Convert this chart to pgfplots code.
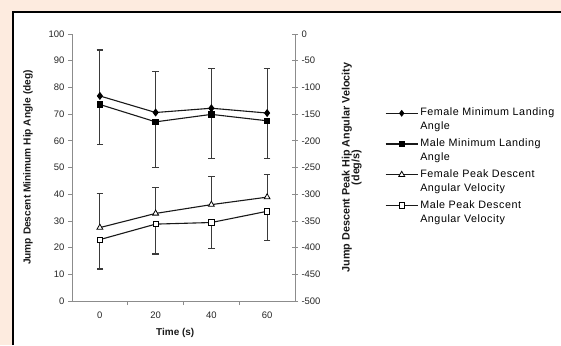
\documentclass[border=0pt]{standalone}
\usepackage{fontspec}
\setmainfont{Liberation Sans}
\newfontfamily\legfont[LetterSpace=5]{Liberation Sans}
\usepackage{pgfplots}
\pgfplotsset{compat=1.18}
\definecolor{peach}{HTML}{FDEBDF}
\definecolor{axgray}{HTML}{8C8C8C}
\definecolor{errgray}{HTML}{3A3A3A}
\pgfplotsset{
  common/.style={
    scale only axis, width=223bp, height=267bp,
    at={(72bp,-301bp)}, anchor=south west,
    xmin=-10, xmax=70,
    axis line style={draw=axgray, line width=0.9bp, -},
    tick style={draw=axgray, line width=0.8bp},
    ticklabel style={font=\fontsize{9.5}{11}\selectfont, text=black!85},
    /pgf/number format/assume math mode=true,
    clip=false,
  },
  line/.style={black!90, line width=1.1bp},
  ebar/.style={/pgfplots/error bars/error bar style={errgray, line width=1.1bp}, /pgfplots/error bars/error mark options={errgray, line width=1.1bp, mark size=3.2bp, rotate=90}},
}
\begin{document}
\begin{tikzpicture}[x=1bp,y=1bp]
\useasboundingbox (0,0) rectangle (561,-345);
\fill[peach] (0,0) rectangle (561,-345);
\fill[white] (13,-12) rectangle (561,-345);
\draw[line width=2.2bp] (13,-345) -- (13,-12.1) -- (561,-12.1);

\begin{axis}[common,
  ymin=0, ymax=100,
  axis x line*=bottom, axis y line*=left,
  ytick={0,10,...,100}, ytick align=outside, major tick length=4bp,
  xtick={0,20,40,60}, xtick style={draw=none},
  xticklabel style={yshift=-7bp},
  extra x ticks={10,30,50}, extra x tick labels={},
  extra x tick style={tick align=outside, major tick length=4bp, xtick style={draw=axgray}},
  xlabel={Time (s)},
  xlabel style={at={(axis description cs:0.463,-0.12)}, anchor=center, font=\bfseries\fontsize{10}{12}\selectfont, text=black!90},
  ylabel={Jump Descent Minimum Hip Angle (deg)},
  ylabel style={at={(axis description cs:-0.197,0.5)}, anchor=center, font=\bfseries\fontsize{10.2}{12}\selectfont, text=black!90},
]
\addplot+[line, mark=diamond*, mark size=3.2bp, mark options={fill=black, draw=black, solid}, ebar,
  error bars/.cd, y dir=plus, y explicit]
  coordinates {(0,76.8) +- (0,17.2) (20,70.6) +- (0,15.5) (40,72.2) +- (0,14.9) (60,70.4) +- (0,16.8)};
\addplot+[line, mark=square*, mark size=2.7bp, mark options={fill=black, draw=black, solid}, ebar,
  error bars/.cd, y dir=minus, y explicit]
  coordinates {(0,73.6) +- (0,14.9) (20,67.1) +- (0,17.2) (40,69.9) +- (0,16.4) (60,67.5) +- (0,14.0)};
\end{axis}

\begin{axis}[common,
  ymin=-500, ymax=0,
  axis x line=none, axis y line*=right,
  ytick={-500,-450,...,0}, ytick align=center, major tick length=6bp,
  ylabel={\begin{tabular}{c}Jump Descent Peak Hip Angular Velocity\\[-2bp](deg/s)\end{tabular}},
  ylabel style={at={(axis description cs:1.256,0.5)}, anchor=center, font=\bfseries\fontsize{10.8}{12}\selectfont, text=black!90},
  legend style={at={(axis description cs:1.39,0.738)}, anchor=north west, draw=none, fill=none,
    font=\legfont\fontsize{10.8}{14}\selectfont, row sep=3.5bp, cells={align=left, anchor=west}},
  legend cell align=left,
  legend image code/.code={\draw[mark repeat=2, mark phase=2, yshift=6.5bp, #1] plot coordinates {(0bp,0bp) (16bp,0bp) (32bp,0bp)};},
]
\addlegendimage{line, mark=diamond*, mark size=2.6bp, mark options={fill=black, draw=black, solid}}
\addlegendentry{Female Minimum Landing\\Angle}
\addlegendimage{line, mark=square*, mark size=2.3bp, mark options={fill=black, draw=black, solid}}
\addlegendentry{Male Minimum Landing\\Angle}
\addplot+[line, mark=triangle*, mark size=3.4bp, mark options={fill=white, draw=black, solid, line width=0.8bp}, ebar,
  error bars/.cd, y dir=plus, y explicit]
  coordinates {(0,-362.5) +- (0,63.75) (20,-336) +- (0,48.5) (40,-319.5) +- (0,53.25) (60,-305.5) +- (0,43)};
\addlegendentry{Female Peak Descent\\Angular Velocity}
\addplot+[line, mark=square*, mark size=2.7bp, mark options={fill=white, draw=black, solid, line width=0.8bp}, ebar,
  error bars/.cd, y dir=minus, y explicit]
  coordinates {(0,-385) +- (0,55) (20,-356) +- (0,56) (40,-353) +- (0,48) (60,-332) +- (0,54)};
\addlegendentry{Male Peak Descent\\Angular Velocity}
\end{axis}
\end{tikzpicture}
\end{document}
